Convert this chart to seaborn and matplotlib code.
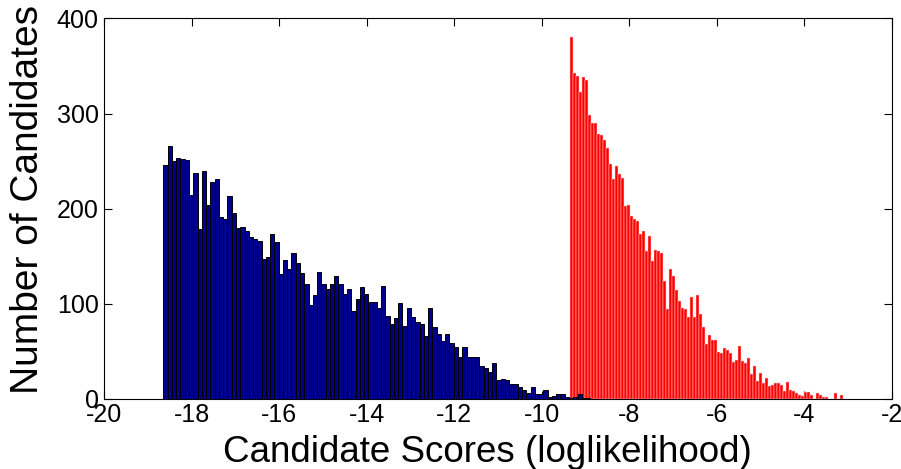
import numpy as np
import pandas as pd
import matplotlib
matplotlib.use("Agg")
import matplotlib.pyplot as plt
import seaborn as sns

# Histogram counts per bin for the two candidate groups
blue_counts = [
    246, 266, 250, 253, 252, 251, 214, 237, 179, 240, 204, 228, 231, 191, 189, 213,
    195, 180, 181, 176, 170, 168, 166, 147, 149, 173, 165, 131, 146, 136, 153, 143,
    132, 121, 99, 109, 133, 121, 116, 121, 129, 121, 110, 115, 92, 105, 118, 110,
    102, 102, 95, 119, 87, 79, 85, 101, 77, 95, 86, 81, 79, 66, 95,
    75, 68, 61, 68, 59, 54, 44, 54, 44, 44, 44, 34, 32, 28, 38, 20, 21, 20, 16, 16,
    12, 9, 6, 12, 5,
    5, 9, 2, 3, 5, 5, 2, 1, 2, 5, 1, 1,
]
red_counts = [
    381, 343, 339, 323, 338, 335, 299, 290, 290, 278, 277, 272, 264, 247, 231, 245,
    236, 232, 203, 204, 192, 189, 187, 173, 176, 155, 171, 145, 157, 155,
    153, 124, 94, 136, 129, 114, 103, 95, 94, 86, 107, 86, 109, 89, 75, 58, 67, 62,
    62, 49, 48, 53, 51, 48, 39, 41, 55, 40, 38, 43, 26, 34, 19, 27, 17, 22, 13,
    14, 17, 17, 14, 8, 18, 9, 8, 6, 4, 3, 7, 7, 4, 0, 6, 4, 2, 2, 0, 0, 6, 0, 4,
]

# Bin layout (first edge, bin width) of each histogram
blue_start, blue_width = -18.65, 0.0976
red_start, red_width = -9.353, 0.0686

x_ticks = list(range(-20, -1, 2))
y_ticks = [0, 100, 200, 300, 400]


def binned_frame(start, width, counts):
    edges = start + width * np.arange(len(counts) + 1)
    centers = (edges[:-1] + edges[1:]) / 2
    return pd.DataFrame({"score": centers, "count": counts}), edges.tolist()


sns.set_theme(style="white")
plt.rcParams["font.family"] = ["Liberation Sans", "DejaVu Sans"]
plt.rcParams["axes.unicode_minus"] = False
plt.rcParams["axes.labelcolor"] = "black"
plt.rcParams["text.color"] = "black"

fig = plt.figure(figsize=(9.01, 4.69), dpi=100)
ax = fig.add_axes([0.1158, 0.1497, 0.8739, 0.8109])

red_df, r_edges = binned_frame(red_start, red_width, red_counts)
sns.histplot(data=red_df, x="score", weights="count", bins=r_edges,
             common_bins=False, ax=ax,
             color="#ff0000", alpha=1, edgecolor="#ffd0d0", linewidth=0.35,
             zorder=2)

blue_df, b_edges = binned_frame(blue_start, blue_width, blue_counts)
sns.histplot(data=blue_df, x="score", weights="count", bins=b_edges,
             common_bins=False, ax=ax,
             color="#00008f", alpha=1, edgecolor="black", linewidth=0.7,
             zorder=3)

ax.set_xlim(-20, -2)
ax.set_ylim(0, 400)
ax.set_xticks(x_ticks)
ax.set_yticks(y_ticks)
ax.tick_params(direction="in", length=6, width=0.8, labelsize=18,
               top=True, right=True, bottom=True, left=True, colors="black")
ax.tick_params(axis="x", pad=3)
ax.tick_params(axis="y", pad=4)
for s in ax.spines.values():
    s.set_visible(True)
    s.set_color("black")
    s.set_linewidth(0.8)

ax.set_xlabel("Candidate Scores (loglikelihood)", fontsize=26.5, labelpad=6,
              color="black")
ax.set_ylabel("Number of Candidates", fontsize=28, labelpad=8, color="black")
ax.xaxis.label.set_x(0.486)
ax.yaxis.label.set_y(0.524)

fig.savefig("out.png", dpi=100, facecolor="white")
